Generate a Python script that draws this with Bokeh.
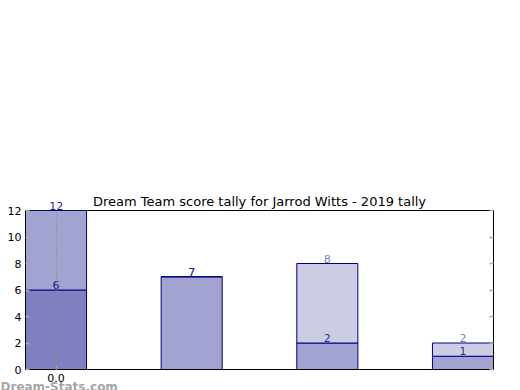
from bokeh.plotting import figure
from bokeh.models import FixedTicker, LinearAxis, Title, CustomJSTickFormatter, Range1d
from bokeh.core.properties import value
from bokeh.embed import file_html
from bokeh.resources import INLINE
import numpy as np

# data
positions = [0, 1, 2, 3]
series_dark = [6, 0, 0, 0]
series_mid = [6, 7, 2, 1]
series_light = [0, 0, 6, 1]
y_ticks = [0, 2, 4, 6, 8, 10, 12]
title_text = "Dream Team score tally for Jarrod Witts - 2019 tally"
watermark = "Dream-Stats.com"

FONT = "DejaVu Sans"
XMIN, XMAX = -0.225, 3.225
YMAX = 12
FW, FH = 468, 159
PX_PER_X = FW / (XMAX - XMIN)

p = figure(frame_width=FW, frame_height=FH, output_backend="svg", toolbar_location=None,
           x_range=Range1d(XMIN, XMAX), y_range=Range1d(0, YMAX),
           min_border_left=25, min_border_right=27, min_border_top=210, min_border_bottom=21)

p.title.text = title_text
p.title.align = "center"
p.title.text_font = FONT
p.title.text_font_size = "13px"
p.title.text_font_style = "normal"
p.title.text_color = "black"
p.title.standoff = -18

pos = np.array(positions, dtype=float)
d = np.array(series_dark, dtype=float)
m = np.array(series_mid, dtype=float)
l = np.array(series_light, dtype=float)
total = d + m + l

edge = "#000080"
p.vbar(x=pos, bottom=0, top=d, width=0.45, fill_color="#8080c0", line_color=edge, line_width=1)
p.vbar(x=pos, bottom=d, top=d + m, width=0.45, fill_color="#a3a3d1", line_color=edge, line_width=1)
p.vbar(x=pos, bottom=d + m, top=total, width=0.45, fill_color="#ccccE5", line_color=edge, line_width=1)

# labels (inside the frame)
mask = d > 0
common = dict(text_align="center", text_baseline="middle", text_font=value(FONT),
              text_font_size="11px", text_color="#000080", y_offset=-5)
p.text(x=pos[mask], y=d[mask], text=[str(int(v)) for v in d[mask]], text_alpha=0.9, **common)
inside = (d + m) < YMAX
p.text(x=pos[inside], y=(d + m)[inside], text=[str(int(v)) for v in (d + m)[inside]], text_alpha=0.8, **common)
inside_t = total < YMAX
p.text(x=pos[inside_t], y=total[inside_t], text=[str(int(v)) for v in total[inside_t]], text_alpha=0.55, **common)

# labels that sit above the frame top: drawn as titles in the top panel
for i in np.where(total >= YMAX)[0]:
    txt = str(int(total[i]))
    half_w = 3.4 * len(txt)
    t = Title(text=txt, align="left", offset=(pos[i] - XMIN) * PX_PER_X - half_w,
              standoff=1, text_font=FONT, text_font_size="11px", text_font_style="normal",
              text_color="#000080", text_alpha=0.9)
    p.add_layout(t, "above")

# grid
p.ygrid.visible = False
p.xgrid.ticker = FixedTicker(ticks=[0])
p.xgrid.grid_line_color = "#888888"
p.xgrid.grid_line_dash = "1 2"
p.xgrid.grid_line_width = 1.5
p.xgrid.level = "overlay"

p.outline_line_color = "black"
p.outline_line_width = 1

# axes
for ax in (p.xaxis[0], p.yaxis[0]):
    ax.axis_line_color = "black"
    ax.major_tick_in = 4
    ax.major_tick_out = 0
    ax.minor_tick_line_color = None
    ax.major_tick_line_color = "#aaaaaa"
    ax.major_tick_line_width = 1.5
    ax.major_label_text_font = FONT
    ax.major_label_text_font_size = "11px"
    ax.major_label_text_color = "black"

p.yaxis.ticker = FixedTicker(ticks=y_ticks)
p.yaxis.major_label_standoff = 4
p.xaxis.ticker = FixedTicker(ticks=[0])
p.xaxis.formatter = CustomJSTickFormatter(code="return tick.toFixed(1);")
p.xaxis.major_label_standoff = 4

right = LinearAxis(ticker=FixedTicker(ticks=y_ticks), major_label_text_font_size="0px",
                   major_tick_in=4, major_tick_out=0, minor_tick_line_color=None,
                   major_tick_line_color="#aaaaaa", major_tick_line_width=1.5,
                   axis_line_color="black")
p.add_layout(right, "right")

wm = Title(text=watermark, align="left", offset=-25, standoff=-13,
           text_font=FONT, text_font_size="12px", text_font_style="bold",
           text_color="#999999", text_alpha=0.9)
p.add_layout(wm, "below")

open("out.html", "w").write(file_html(p, INLINE))
